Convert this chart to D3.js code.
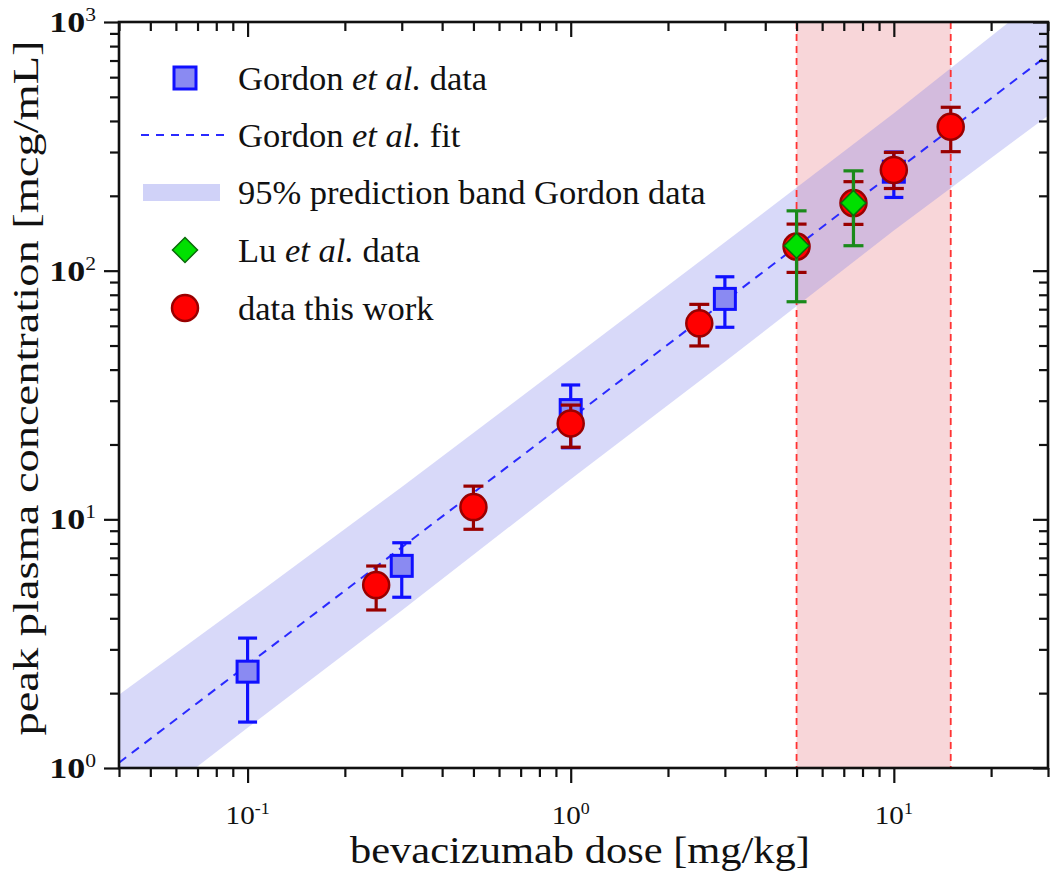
<!DOCTYPE html>
<html>
<head>
<meta charset="utf-8">
<script src="https://cdn.jsdelivr.net/npm/d3@7"></script>
<style>
  html, body { margin: 0; padding: 0; background: #fff; }
  svg { display: block; }
  text { font-family: "Liberation Serif", "Times New Roman", serif; fill: #111; }
</style>
</head>
<body>
<svg id="chart" width="1050" height="879"></svg>
<script>
// ---------- data ----------
const gordonDose = [0.1, 0.3, 1, 3, 10];
const gordonConc = [2.44, 6.5, 27.5, 77, 250];
const gordonLow  = [1.53, 4.86, 19.4, 59.2, 197];
const gordonHigh = [3.33, 8.05, 34.7, 94.5, 300];

const luDose = [5, 7.5];
const luConc = [126, 187];
const luLow  = [75, 126];
const luHigh = [174, 252];

const workDose = [0.25, 0.5, 1, 2.5, 5, 7.5, 10, 15];
const workConc = [5.44, 11.2, 24.3, 61.4, 125, 187, 254, 379];
const workLow  = [4.32, 9.12, 19.5, 49.8, 98.4, 153.5, 214, 301];
const workHigh = [6.49, 13.6, 28.8, 73.2, 153.9, 228, 299, 454];

const fitDose = [0.04, 30];
const fitConc = [1.05, 737];

const bandDose  = [0.04, 0.1, 0.3, 1, 3, 10, 30];
const bandLower = [0.58, 1.45, 4.3, 14.5, 43, 145, 420];
const bandUpper = [1.97, 4.7, 13.5, 44, 130, 430, 1330];

const doseRange = [5, 15];

const xMajorTicks = [0.1, 1, 10];
const xTickLabels = ["-1", "0", "1"];
const yMajorTicks = [1, 10, 100, 1000];
const yTickLabels = ["0", "1", "2", "3"];

const legendLabels = [
  ["Gordon ", "et al.", " data"],
  ["Gordon ", "et al.", " fit"],
  ["95% prediction band Gordon data", "", ""],
  ["Lu ", "et al.", " data"],
  ["data this work", "", ""]
];

// ---------- layout ----------
const L = 119, R = 1048, T = 22, B = 768;
const svg = d3.select("#chart");
const x = d3.scaleLog().domain([0.04, 30]).range([L, R]);
const y = d3.scaleLog().domain([1, 1000]).range([B, T]);

svg.append("defs").append("clipPath").attr("id", "clip")
  .append("rect").attr("x", L).attr("y", T).attr("width", R - L).attr("height", B - T);
const plot = svg.append("g").attr("clip-path", "url(#clip)");

// pink dose range
plot.append("rect")
  .attr("x", x(doseRange[0])).attr("width", x(doseRange[1]) - x(doseRange[0]))
  .attr("y", T).attr("height", B - T)
  .attr("fill", "rgb(232,120,128)").attr("fill-opacity", 0.3);
// band
const bandArea = d3.area()
  .x((d, i) => x(bandDose[i]))
  .y0((d, i) => y(bandLower[i]))
  .y1((d, i) => y(bandUpper[i]));
plot.append("path").datum(bandDose).attr("d", bandArea)
  .attr("fill", "rgb(110,115,232)").attr("fill-opacity", 0.27);

// fit line
plot.append("path").datum(fitDose)
  .attr("d", d3.line().x((d, i) => x(fitDose[i])).y((d, i) => y(fitConc[i])))
  .attr("fill", "none").attr("stroke", "#2a2aff").attr("stroke-width", 2)
  .attr("stroke-dasharray", "9,7");

// red dashed verticals
doseRange.forEach(d => {
  plot.append("line").attr("x1", x(d)).attr("x2", x(d)).attr("y1", T).attr("y2", B)
    .attr("stroke", "#ff3333").attr("stroke-width", 1.8).attr("stroke-dasharray", "7,5");
});

function errorBars(dose, low, high, color, capW, w) {
  const g = plot.append("g").attr("stroke", color).attr("stroke-width", w);
  dose.forEach((d, i) => {
    const cx = x(d);
    g.append("line").attr("x1", cx).attr("x2", cx).attr("y1", y(low[i])).attr("y2", y(high[i]));
    g.append("line").attr("x1", cx - capW / 2).attr("x2", cx + capW / 2).attr("y1", y(low[i])).attr("y2", y(low[i]));
    g.append("line").attr("x1", cx - capW / 2).attr("x2", cx + capW / 2).attr("y1", y(high[i])).attr("y2", y(high[i]));
  });
}

// Gordon data
errorBars(gordonDose, gordonLow, gordonHigh, "#1010ff", 19, 3.2);
plot.append("g").selectAll("rect").data(gordonDose).join("rect")
  .attr("x", (d) => x(d) - 10.5).attr("y", (d, i) => y(gordonConc[i]) - 10.5)
  .attr("width", 21).attr("height", 21)
  .attr("fill", "#8a8af2").attr("stroke", "#1010ff").attr("stroke-width", 3);

// this work
errorBars(workDose, workLow, workHigh, "#990000", 20, 3.2);
plot.append("g").selectAll("circle").data(workDose).join("circle")
  .attr("cx", d => x(d)).attr("cy", (d, i) => y(workConc[i])).attr("r", 13)
  .attr("fill", "#ff0000").attr("stroke", "#990000").attr("stroke-width", 2.5);

// Lu data
errorBars(luDose, luLow, luHigh, "#1a8a1a", 20, 3.2);
plot.append("g").selectAll("path").data(luDose).join("path")
  .attr("d", (d, i) => {
    const cx = x(d), cy = y(luConc[i]), s = 12.5;
    return `M${cx},${cy - s}L${cx + s},${cy}L${cx},${cy + s}L${cx - s},${cy}Z`;
  })
  .attr("fill", "#00e000").attr("stroke", "#0a6a0a").attr("stroke-width", 1.5);

// ---------- axes ----------
function minors(lo, hi) {
  const out = [];
  for (let e = Math.floor(Math.log10(lo)); e <= Math.ceil(Math.log10(hi)); e++) {
    for (let m = 2; m <= 9; m++) {
      const v = m * Math.pow(10, e);
      if (v >= lo * 0.999 && v <= hi * 1.001) out.push(v);
    }
  }
  return out;
}
const xMinor = minors(0.04, 30);
const yMinor = minors(1, 1000);

function styleAxis(g) {
  g.select(".domain").remove();
  g.selectAll("line").attr("stroke", "#111").attr("stroke-width", 2.2);
  g.selectAll("text").remove();
}
svg.append("g").attr("transform", `translate(0,${B})`)
  .call(d3.axisBottom(x).tickValues(xMajorTicks).tickSize(15)).call(styleAxis);
svg.append("g").attr("transform", `translate(0,${B})`)
  .call(d3.axisBottom(x).tickValues(xMinor).tickSize(9)).call(styleAxis);
svg.append("g").attr("transform", `translate(0,${T})`)
  .call(d3.axisTop(x).tickValues(xMajorTicks).tickSize(-15)).call(styleAxis);
svg.append("g").attr("transform", `translate(0,${T})`)
  .call(d3.axisTop(x).tickValues(xMinor).tickSize(-9)).call(styleAxis);
svg.append("g").attr("transform", `translate(${L},0)`)
  .call(d3.axisLeft(y).tickValues(yMajorTicks).tickSize(15)).call(styleAxis);
svg.append("g").attr("transform", `translate(${L},0)`)
  .call(d3.axisLeft(y).tickValues(yMinor).tickSize(9)).call(styleAxis);
svg.append("g").attr("transform", `translate(${R},0)`)
  .call(d3.axisRight(y).tickValues(yMajorTicks).tickSize(-15)).call(styleAxis);
svg.append("g").attr("transform", `translate(${R},0)`)
  .call(d3.axisRight(y).tickValues(yMinor).tickSize(-9)).call(styleAxis);

svg.append("rect").attr("x", L).attr("y", T).attr("width", R - L).attr("height", B - T)
  .attr("fill", "none").attr("stroke", "#111").attr("stroke-width", 2.6);

// tick labels
xMajorTicks.forEach((v, i) => {
  const t = svg.append("text")
    .attr("transform", `translate(${x(v)},824) scale(1.12,1)`)
    .attr("text-anchor", "middle").attr("font-size", 26);
  t.append("tspan").text("10");
  t.append("tspan").attr("dy", -10).attr("font-size", 16).text(xTickLabels[i]);
});
yMajorTicks.forEach((v, i) => {
  const t = svg.append("text")
    .attr("transform", `translate(96,${y(v) + 10}) scale(1.2,1)`)
    .attr("text-anchor", "end").attr("font-size", 30).attr("font-weight", "bold");
  t.append("tspan").text("10");
  t.append("tspan").attr("dy", -11).attr("font-size", 18).attr("font-weight", "normal").text(yTickLabels[i]);
});

// axis titles
svg.append("text").attr("x", 580).attr("y", 863).attr("text-anchor", "middle")
  .attr("font-size", 38).attr("textLength", 460).attr("lengthAdjust", "spacingAndGlyphs")
  .text("bevacizumab dose [mg/kg]");
svg.append("text").attr("transform", `translate(38,388) rotate(-90)`)
  .attr("text-anchor", "middle").attr("font-size", 36)
  .attr("textLength", 695).attr("lengthAdjust", "spacingAndGlyphs")
  .text("peak plasma concentration [mcg/mL]");

// ---------- legend ----------
const lg = svg.append("g");
const rowY = [78, 135, 192, 250, 308];
const symX = 185, textX = 238;
legendLabels.forEach((parts, i) => {
  const t = lg.append("text").attr("x", textX).attr("y", rowY[i] + 12).attr("font-size", 34.5);
  t.append("tspan").text(parts[0]);
  if (parts[1]) t.append("tspan").attr("font-style", "italic").text(parts[1]);
  if (parts[2]) t.append("tspan").text(parts[2]);
});
lg.append("rect").attr("x", symX - 11).attr("y", rowY[0] - 11).attr("width", 22).attr("height", 22)
  .attr("fill", "#8a8af2").attr("stroke", "#1010ff").attr("stroke-width", 3);
lg.append("line").attr("x1", 141).attr("x2", 224).attr("y1", rowY[1]).attr("y2", rowY[1])
  .attr("stroke", "#2a2aff").attr("stroke-width", 2.2).attr("stroke-dasharray", "8,7");
lg.append("rect").attr("x", 143).attr("y", rowY[2] - 8).attr("width", 77).attr("height", 17)
  .attr("fill", "rgb(110,115,232)").attr("fill-opacity", 0.32);
lg.append("path").attr("d", `M${symX},${rowY[3] - 12.5}L${symX + 12.5},${rowY[3]}L${symX},${rowY[3] + 12.5}L${symX - 12.5},${rowY[3]}Z`)
  .attr("fill", "#00e000").attr("stroke", "#0a6a0a").attr("stroke-width", 1.5);
lg.append("circle").attr("cx", symX).attr("cy", rowY[4]).attr("r", 13)
  .attr("fill", "#ff0000").attr("stroke", "#990000").attr("stroke-width", 2.5);
</script>
</body>
</html>
